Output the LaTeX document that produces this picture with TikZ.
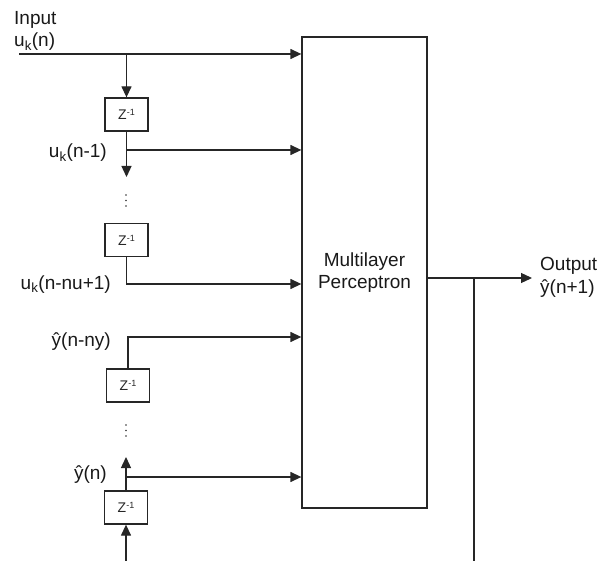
\documentclass[tikz,border=0pt]{standalone}
\usepackage{fontspec}
\setmainfont{Liberation Sans}
\usetikzlibrary{arrows.meta}
\newcommand{\zinv}{Z\raisebox{0.55ex}{\fontsize{9}{10}\selectfont -1}}
\begin{document}
\begin{tikzpicture}[x=1pt,y=-1pt,
  line/.style={line width=1.3pt, draw=black!85},
  arr/.style={line, -{Triangle[length=11pt,width=10pt]}},
  zbox/.style={draw=black!85, line width=1.3pt, minimum width=43pt, minimum height=33pt, inner sep=0pt, font=\fontsize{14}{16}\selectfont, text=black!85},
  lbl/.style={font=\fontsize{19}{22}\selectfont, inner sep=0pt, text=black!90},
  dotf/.style={fill=black!80}]
\useasboundingbox (0,0) rectangle (610,561);

% main block
\node[draw=black!85, line width=1.3pt, minimum width=125pt, minimum height=471pt, inner sep=0pt,
      lbl, align=center] (mlp) at (364.5,272.5) {Multilayer\\Perceptron};

% delay boxes
\node[zbox] (z1) at (126.5,114.5) {\zinv};
\node[zbox] (z2) at (126.5,240) {\zinv};
\node[zbox] (z3) at (128,385.5) {\zinv};
\node[zbox] (z4) at (126,507.5) {\zinv};

% vertical dots
\foreach \y in {195,200.5,206} \fill[dotf] (126,\y) circle (0.9pt);
\foreach \y in {425,430.5,436} \fill[dotf] (126,\y) circle (0.9pt);

% coordinates
\coordinate (in) at (19,54);
\coordinate (s1) at (126.5,54);
\coordinate (e1) at (126.5,177);
\coordinate (b1) at (126.5,150);
\coordinate (c2) at (126.5,284);
\coordinate (c3) at (128,337);
\coordinate (t4) at (126,457);
\coordinate (b4) at (126,477);
\coordinate (bot) at (126,561);
\coordinate (o1) at (427,278);
\coordinate (oend) at (532,278);
\coordinate (ob) at (474,278);
\coordinate (obot) at (474,561);

% labels
\node[lbl, anchor=base west] (linput) at (14,25) {Input};
\node[lbl, anchor=base west] (lun) at (14,47) {u\textsubscript{k}(n)};
\node[lbl, anchor=base east] (lun1) at (107,158) {u\textsubscript{k}(n-1)};
\node[lbl, anchor=base east] (lunu) at (111,289) {u\textsubscript{k}(n-nu+1)};
\node[lbl, anchor=base east] (lyny) at (111,346) {ŷ(n-ny)};
\node[lbl, anchor=base east] (lyn) at (107,479) {ŷ(n)};
\node[lbl, anchor=base west] (lout) at (540,270) {Output};
\node[lbl, anchor=base west] (lyout) at (540,294) {ŷ(n+1)};

% connectors
\draw[arr] (in) -- (in -| mlp.west);
\draw[arr] (s1) -- (z1.north);
\draw[arr] (z1.south) -- (e1);
\draw[arr] (b1) -- (b1 -| mlp.west);
\draw[arr] (z2.south) -- (c2) -- (c2 -| mlp.west);
\draw[arr] (z3.north) -- (c3) -- (c3 -| mlp.west);
\draw[arr] (z4.north) -- (t4);
\draw[arr] (b4) -- (b4 -| mlp.west);
\draw[arr] (bot) -- (z4.south);
\draw[arr] (o1) -- (oend);
\draw[line] (ob) -- (obot);
\end{tikzpicture}
\end{document}
